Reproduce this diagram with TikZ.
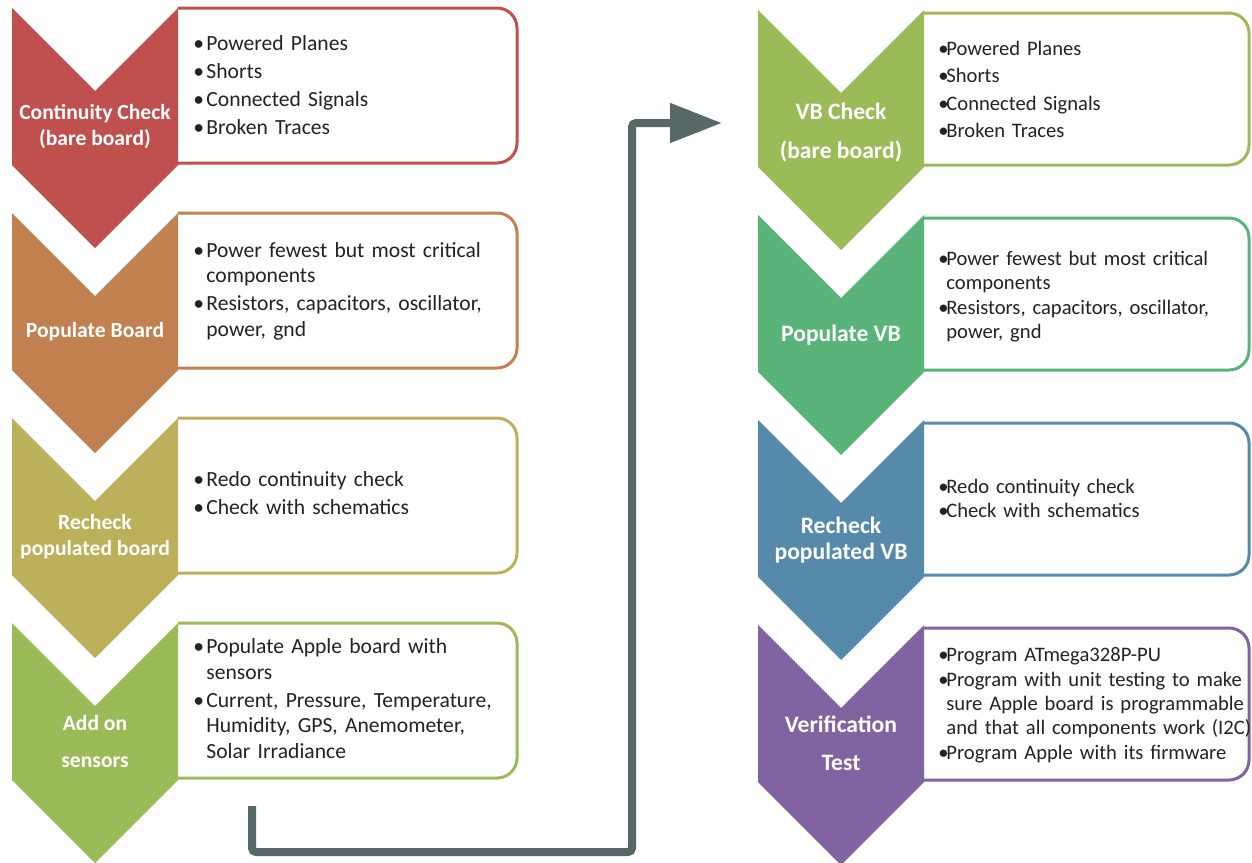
\documentclass[tikz,border=0pt]{standalone}
\usepackage{fontspec}
\setmainfont{Carlito}
\usepackage{tikz}
\usetikzlibrary{arrows.meta,positioning}
\definecolor{stepred}{RGB}{192,80,77}
\definecolor{steporange}{RGB}{194,129,80}
\definecolor{stepolive}{RGB}{189,176,90}
\definecolor{stepgreen}{RGB}{155,187,89}
\definecolor{stepteal}{RGB}{90,180,122}
\definecolor{stepblue}{RGB}{86,138,170}
\definecolor{steppurple}{RGB}{128,100,162}
\definecolor{arrowgray}{RGB}{88,104,105}
\definecolor{listgray}{RGB}{35,35,35}

% chevron: x of its centre, y of its top, colour
\newcommand{\flowchev}[3]{%
  \fill[#3] (#1-83,#2) -- (#1,#2+83) -- (#1+83,#2) -- (#1+83,#2+157)
    -- (#1,#2+240) -- (#1-83,#2+157) -- cycle;}
% box open on the left: left x, top y, right x, bottom y, colour
\newcommand{\flowbox}[5]{%
  \draw[stepbox, #5] (#1,#2) -- (#3,#2) -- (#3,#4) -- (#1,#4);}
% bullet items, left and right column
\newcommand{\litem}[1]{\hangindent=6.5pt\hangafter=1\noindent
  \makebox[6.5pt][l]{\textbullet}#1\par}
\newcommand{\ritem}[1]{\hangindent=4pt\hangafter=1\noindent
  \makebox[4pt][l]{\textbullet}#1\par}

\begin{document}
\begin{tikzpicture}[x=0.5pt, y=-0.5pt, >=Latex,
  stepbox/.style={line width=1.5pt, rounded corners=10pt},
  leftlabel/.style={text=white, align=center,
    font=\bfseries\fontsize{10.8}{13}\selectfont},
  rightlabel/.style={text=white, align=center,
    font=\bfseries\fontsize{11.8}{13}\selectfont},
  leftlist/.style={anchor=west, inner sep=0pt, text=listgray,
    text width=165pt, align=left, font=\fontsize{10.8}{12.7}\selectfont,
    execute at begin node={\setlength{\parskip}{1.3pt}}},
  rightlist/.style={anchor=west, inner sep=0pt, text=listgray,
    text width=160pt, align=left, font=\fontsize{10.3}{12}\selectfont,
    execute at begin node={\setlength{\parskip}{0.4pt}}},
  flowarrow/.style={draw=arrowgray, line width=4pt, rounded corners=2pt,
    -{Triangle[length=26pt, width=19pt]}}]
\useasboundingbox (0,0) rectangle (1252,862);
\fill[white] (0,0) rectangle (1252,862);

% left column
\flowbox{178}{8}{517}{163}{stepred}
\flowbox{178}{213}{517}{368}{steporange}
\flowbox{178}{418}{517}{573}{stepolive}
\flowbox{178}{623}{517}{778}{stepgreen}
\flowchev{95}{8}{stepred}
\flowchev{95}{213}{steporange}
\flowchev{95}{418}{stepolive}
\flowchev{95}{623}{stepgreen}

\node[leftlabel] (cont) at (95,127) {Continuity Check\\(bare board)};
\node[leftlabel] (popb) at (95,332) {Populate Board};
\node[leftlabel] (rechb) at (95,537) {Recheck\\populated board};
\node[leftlabel] (addon) at (95,741) {Add on\\[5.5pt]sensors};

\node[leftlist] (contlist) at (193,85) {\litem{Powered Planes}\litem{Shorts}%
  \litem{Connected Signals}\litem{Broken Traces}};
\node[leftlist] (popblist) at (193,291) {%
  \litem{Power fewest but most critical\newline components}%
  \litem{Resistors, capacitors, oscillator,\newline power, gnd}};
\node[leftlist] (rechblist) at (193,493.5) {\litem{Redo continuity check}%
  \litem{Check with schematics}};
\node[leftlist] (addonlist) at (193,698.5) {%
  \litem{Populate Apple board with\newline sensors}%
  \litem{Current, Pressure, Temperature,\newline Humidity, GPS, Anemometer,\newline Solar Irradiance}};

% right column
\flowbox{924}{13}{1249}{165}{stepgreen}
\flowbox{924}{218}{1249}{370}{stepteal}
\flowbox{924}{423}{1249}{575}{stepblue}
\flowbox{924}{628}{1249}{780}{steppurple}
\flowchev{841}{10}{stepgreen}
\flowchev{841}{215}{stepteal}
\flowchev{841}{420}{stepblue}
\flowchev{841}{625}{steppurple}

\node[rightlabel] (vbchk) at (841,133) {VB Check\\[6.5pt](bare board)};
\node[rightlabel] (popvb) at (841,335) {Populate VB};
\node[rightlabel] (rechvb) at (841,540) {Recheck\\populated VB};
\node[rightlabel] (verif) at (841,743) {Verification\\[6pt]Test};

\node[rightlist, execute at begin node={\setlength{\parskip}{1.6pt}}]
  (vbchklist) at (938,89.5) {\ritem{Powered Planes}\ritem{Shorts}%
  \ritem{Connected Signals}\ritem{Broken Traces}};
\node[rightlist] (popvblist) at (938,296.5) {%
  \ritem{Power fewest but most critical\newline components}%
  \ritem{Resistors, capacitors, oscillator,\newline power, gnd}};
\node[rightlist] (rechvblist) at (938,498.5) {\ritem{Redo continuity check}%
  \ritem{Check with schematics}};
\node[rightlist] (veriflist) at (938,705) {\ritem{Program ATmega328P-PU}%
  \ritem{Program with unit testing to make\newline sure Apple board is programmable\newline and that all components work (I2C)}%
  \ritem{Program Apple with its firmware}};

% link from the left column to the right one
\coordinate (linkstart) at (252,806);
\coordinate (linkturn) at (632,852);
\coordinate (linkend) at (722,123);
\draw[flowarrow] (linkstart) |- (linkturn) |- (linkend);
\end{tikzpicture}
\end{document}
